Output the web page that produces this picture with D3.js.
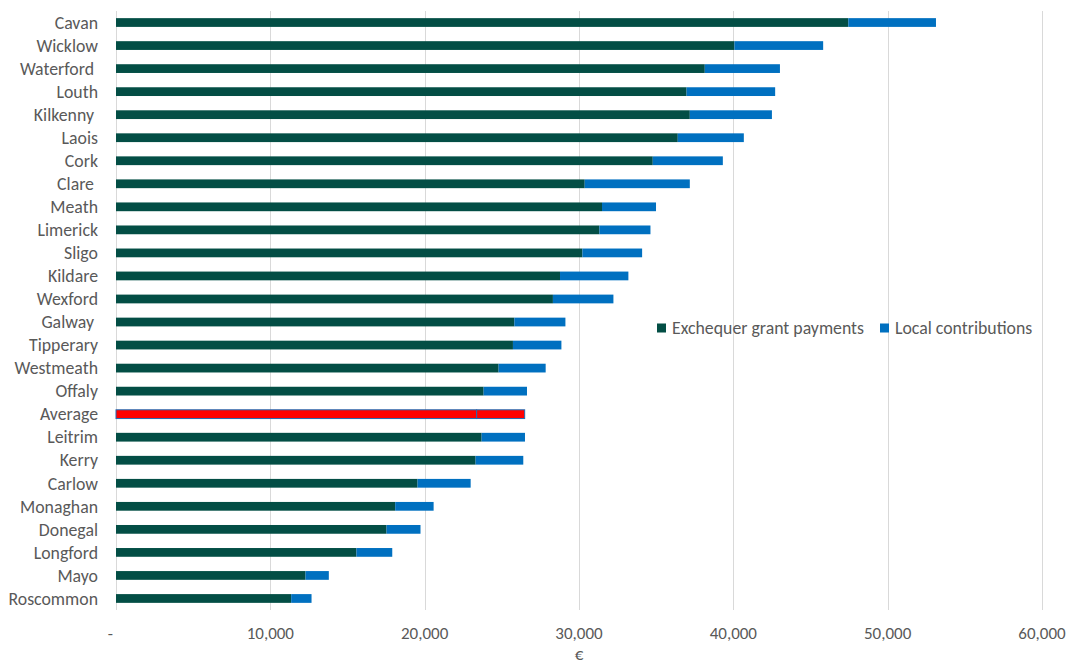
<!DOCTYPE html>
<html>
<head>
<meta charset="utf-8">
<script src="https://cdn.jsdelivr.net/npm/d3@7"></script>
<style>
  html, body { margin: 0; padding: 0; background: #fff; }
  svg { display: block; font-family: Carlito, Lato, "Open Sans", sans-serif; }
  .lbl { white-space: pre; }
</style>
</head>
<body>
<svg id="chart" width="1073" height="666"></svg>
<script>
// Counties, ordered top to bottom as drawn
const counties = ["Cavan", "Wicklow", "Waterford ", "Louth", "Kilkenny ", "Laois", "Cork", "Clare ",
  "Meath", "Limerick", "Sligo", "Kildare", "Wexford", "Galway ", "Tipperary", "Westmeath",
  "Offaly", "Average", "Leitrim", "Kerry", "Carlow", "Monaghan", "Donegal", "Longford", "Mayo", "Roscommon"];

// Exchequer grant payments (€)
const exchequer = [47450, 40070, 38150, 36970, 37180, 36400, 34780, 30370,
  31490, 31320, 30220, 28770, 28310, 25810, 25720, 24790,
  23820, 23370, 23690, 23300, 19540, 18090, 17530, 15580, 12280, 11350];

// Local contributions (€)
const local = [5680, 5750, 4870, 5740, 5320, 4280, 4540, 6810,
  3500, 3310, 3870, 4430, 3920, 3310, 3140, 3050,
  2810, 3110, 2810, 3090, 3440, 2490, 2200, 2320, 1510, 1320];

const seriesNames = ["Exchequer grant payments", "Local contributions"];
const xTicks = [0, 10000, 20000, 30000, 40000, 50000, 60000];
const highlight = "Average";

const colors = { "Exchequer grant payments": "#034E45", "Local contributions": "#0070C0" };
const textColor = "#595959";

const rows = counties.map((c, i) => ({
  county: c,
  "Exchequer grant payments": exchequer[i],
  "Local contributions": local[i]
}));

const svg = d3.select("#chart");

const x = d3.scaleLinear().domain([0, 60000]).range([116, 1042]);
const y = d3.scaleBand().domain(counties).range([11, 610]).paddingInner(0.62).paddingOuter(0.31);

// vertical gridlines
svg.append("g")
  .selectAll("line")
  .data(xTicks)
  .join("line")
  .attr("x1", d => Math.round(x(d)) + 0.5)
  .attr("x2", d => Math.round(x(d)) + 0.5)
  .attr("y1", 11)
  .attr("y2", 610)
  .attr("stroke", "#D9D9D9")
  .attr("stroke-width", 1);

// stacked bars
const stacked = d3.stack().keys(seriesNames)(rows);

const layers = svg.append("g")
  .selectAll("g")
  .data(stacked)
  .join("g");

layers.selectAll("rect")
  .data(d => d.map(s => ({ key: d.key, s })))
  .join("rect")
  .attr("x", d => x(d.s[0]))
  .attr("y", d => y(d.s.data.county))
  .attr("width", d => x(d.s[1]) - x(d.s[0]))
  .attr("height", y.bandwidth())
  .attr("fill", d => d.s.data.county === highlight ? "#FF0000" : colors[d.key])
  .attr("stroke", d => d.s.data.county === highlight ? "#1F6BB5" : "none")
  .attr("stroke-width", 1);

// category labels
svg.append("g")
  .selectAll("text")
  .data(counties)
  .join("text")
  .attr("class", "lbl")
  .attr("x", 98)
  .attr("y", d => y(d) + y.bandwidth() / 2)
  .attr("dy", "0.35em")
  .attr("text-anchor", "end")
  .attr("font-size", 17.8)
  .attr("fill", textColor)
  .text(d => d);

// value axis labels
const fmt = d3.format(",");
svg.append("g")
  .selectAll("text")
  .data(xTicks)
  .join("text")
  .attr("class", "lbl")
  .attr("x", d => x(d))
  .attr("y", 633)
  .attr("dy", "0.35em")
  .attr("text-anchor", "middle")
  .attr("font-size", 17)
  .attr("fill", textColor)
  .text(d => d === 0 ? "-   " : fmt(d));

// axis title
svg.append("text")
  .attr("x", (x(0) + x(60000)) / 2)
  .attr("y", 660)
  .attr("text-anchor", "middle")
  .attr("font-size", 17)
  .attr("fill", textColor)
  .text("€");

// legend
const legendPos = [657, 880];
const legend = svg.append("g")
  .selectAll("g")
  .data(seriesNames)
  .join("g")
  .attr("transform", (d, i) => `translate(${legendPos[i]},328)`);

legend.append("rect")
  .attr("x", 0)
  .attr("y", -4.5)
  .attr("width", 9)
  .attr("height", 9)
  .attr("fill", d => colors[d]);

legend.append("text")
  .attr("x", 15)
  .attr("y", 0)
  .attr("dy", "0.35em")
  .attr("font-size", 17.8)
  .attr("fill", textColor)
  .text(d => d);
</script>
</body>
</html>
